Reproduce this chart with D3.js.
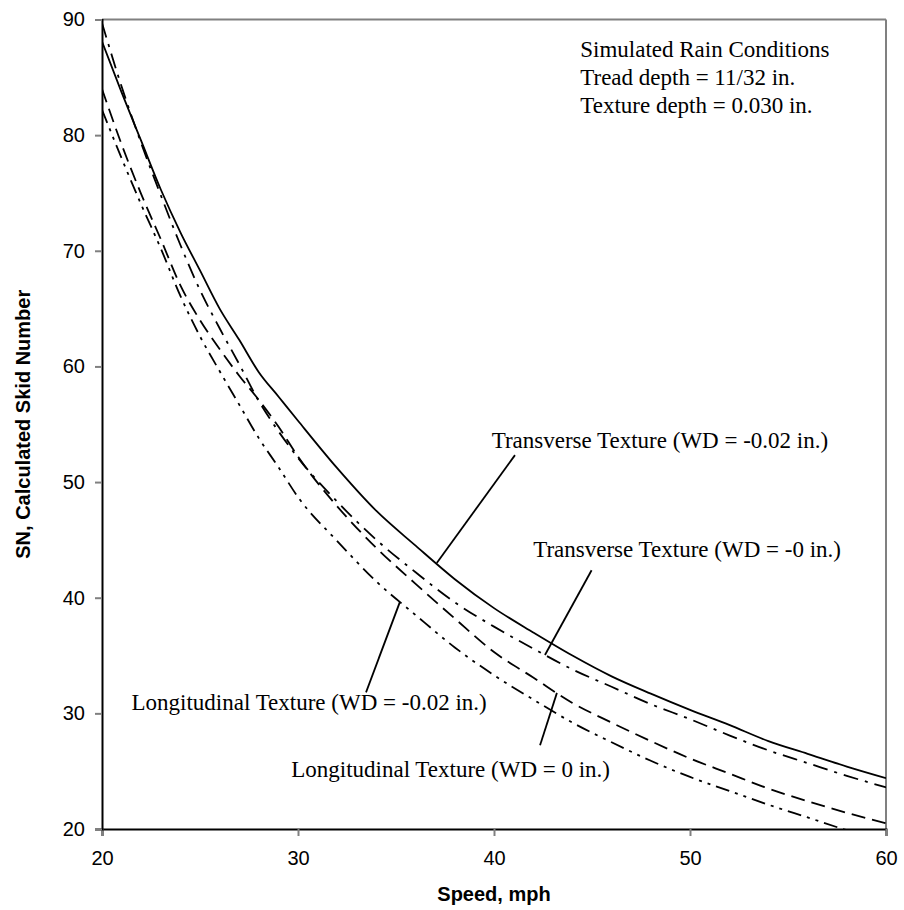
<!DOCTYPE html>
<html>
<head>
<meta charset="utf-8">
<script src="https://cdn.jsdelivr.net/npm/d3@7"></script>
<style>
  body { margin: 0; background: #fff; }
</style>
</head>
<body>
<svg id="chart" width="904" height="910"></svg>
<script>
// speed, mph
const speeds = [20, 21, 22, 23, 24, 25, 26, 27, 28, 29, 30, 32, 34, 36, 38, 40, 42, 44, 46, 48, 50, 52, 54, 56, 58, 60];

// calculated skid number
const transverse02 = [88.1, 83.7, 79.5, 75.3, 71.6, 68.3, 65.0, 62.3, 59.5, 57.4, 55.3, 51.2, 47.5, 44.5, 41.6, 39.1, 37.0, 35.0, 33.2, 31.7, 30.3, 29.0, 27.6, 26.5, 25.4, 24.4];
const transverse0 = [89.7, 84.2, 79.3, 74.8, 70.5, 66.6, 63.3, 60.2, 57.0, 54.4, 52.1, 48.3, 45.0, 42.2, 39.6, 37.5, 35.6, 33.8, 32.3, 30.8, 29.5, 28.1, 26.8, 25.7, 24.6, 23.6];
const longitudinal0 = [84.0, 79.2, 74.9, 71.0, 67.0, 64.0, 61.5, 59.2, 57.1, 54.8, 52.2, 47.9, 44.3, 41.2, 38.2, 35.3, 33.1, 30.9, 29.2, 27.6, 26.1, 24.8, 23.5, 22.4, 21.4, 20.5];
const longitudinal02 = [82.2, 78.0, 74.0, 70.2, 66.1, 62.6, 59.6, 56.7, 53.8, 51.3, 48.7, 44.9, 41.4, 38.5, 35.7, 33.3, 31.2, 29.2, 27.5, 25.9, 24.5, 23.3, 22.1, 21.0, 19.9, 19.0];

const xTicks = [20, 30, 40, 50, 60];
const yTicks = [20, 30, 40, 50, 60, 70, 80, 90];

const notes = ["Simulated Rain Conditions", "Tread depth = 11/32 in.", "Texture depth = 0.030 in."];

const svg = d3.select("#chart");
const pLeft = 102, pRight = 886, pTop = 19.5, pBottom = 829;

const x = d3.scaleLinear().domain([20, 60]).range([pLeft, pRight]);
const y = d3.scaleLinear().domain([20, 90]).range([pBottom, pTop]);

const series = [
  { values: transverse02, dash: null },
  { values: transverse0, dash: "15,7,3,7" },
  { values: longitudinal0, dash: "14,7" },
  { values: longitudinal02, dash: "14,6,3,6,3,6" }
];

// plot frame (top and right in grey)
svg.append("line").attr("x1", pLeft).attr("x2", pRight).attr("y1", pTop).attr("y2", pTop)
  .attr("stroke", "#808080").attr("stroke-width", 2);
svg.append("line").attr("x1", pRight).attr("x2", pRight).attr("y1", pTop).attr("y2", pBottom)
  .attr("stroke", "#808080").attr("stroke-width", 2);

svg.append("clipPath").attr("id", "plot")
  .append("rect").attr("x", pLeft).attr("y", pTop).attr("width", pRight - pLeft).attr("height", pBottom - pTop);

const line = d3.line()
  .x((d, i) => x(speeds[i]))
  .y(d => y(d))
  .curve(d3.curveMonotoneX);

svg.append("g").attr("clip-path", "url(#plot)")
  .selectAll("path")
  .data(series)
  .enter()
  .append("path")
  .attr("d", d => line(d.values))
  .attr("fill", "none")
  .attr("stroke", "#000")
  .attr("stroke-width", 1.8)
  .attr("stroke-dasharray", d => d.dash);

// axes
const xAxis = svg.append("g")
  .attr("transform", `translate(0, ${pBottom})`)
  .call(d3.axisBottom(x).tickValues(xTicks).tickSize(7).tickPadding(15).tickFormat(d3.format("d")));
const yAxis = svg.append("g")
  .attr("transform", `translate(${pLeft}, 0)`)
  .call(d3.axisLeft(y).tickValues(yTicks).tickSize(7).tickPadding(10).tickFormat(d3.format("d")));

[xAxis, yAxis].forEach(g => {
  g.select(".domain").attr("stroke", "#000").attr("stroke-width", 2);
  g.selectAll(".tick line").attr("stroke", "#808080").attr("stroke-width", 2);
  g.selectAll(".tick text").attr("font-family", "Liberation Sans, Arial, sans-serif")
    .attr("font-size", 20).attr("fill", "#000");
});

// axis titles
svg.append("text")
  .attr("x", (pLeft + pRight) / 2).attr("y", 901)
  .attr("text-anchor", "middle")
  .attr("font-family", "Liberation Sans, Arial, sans-serif")
  .attr("font-size", 20).attr("font-weight", "bold")
  .text("Speed, mph");
svg.append("text")
  .attr("transform", `translate(30, ${(pTop + pBottom) / 2}) rotate(-90)`)
  .attr("text-anchor", "middle")
  .attr("font-family", "Liberation Sans, Arial, sans-serif")
  .attr("font-size", 20).attr("font-weight", "bold")
  .text("SN, Calculated Skid Number");

// notes in the upper right corner
svg.append("g").selectAll("text")
  .data(notes)
  .enter()
  .append("text")
  .attr("x", x(44.4))
  .attr("y", (d, i) => pTop + 37 + i * 28.3)
  .attr("font-family", "Liberation Serif, Times New Roman, serif")
  .attr("font-size", 23)
  .text(d => d);

// curve labels with leader lines, placed in data units
const labels = [
  { text: "Transverse Texture (WD = -0.02 in.)", at: [39.88, 52.93], anchor: "start", from: [41.07, 52.33], to: [37.08, 43.0] },
  { text: "Transverse Texture (WD = -0 in.)", at: [42.0, 43.53], anchor: "start", from: [44.98, 42.38], to: [42.6, 35.05] },
  { text: "Longitudinal Texture (WD = -0.02 in.)", at: [39.63, 30.27], anchor: "end", from: [33.47, 31.82], to: [35.2, 39.64] },
  { text: "Longitudinal Texture (WD = 0 in.)", at: [45.92, 24.47], anchor: "end", from: [42.35, 27.24], to: [43.21, 31.77] }
];

const ann = svg.append("g");
ann.selectAll("line")
  .data(labels)
  .enter()
  .append("line")
  .attr("x1", d => x(d.from[0])).attr("y1", d => y(d.from[1]))
  .attr("x2", d => x(d.to[0])).attr("y2", d => y(d.to[1]))
  .attr("stroke", "#000").attr("stroke-width", 1.8);
ann.selectAll("text")
  .data(labels)
  .enter()
  .append("text")
  .attr("x", d => x(d.at[0])).attr("y", d => y(d.at[1]))
  .attr("text-anchor", d => d.anchor)
  .attr("font-family", "Liberation Serif, Times New Roman, serif")
  .attr("font-size", 23)
  .text(d => d.text);
</script>
</body>
</html>
